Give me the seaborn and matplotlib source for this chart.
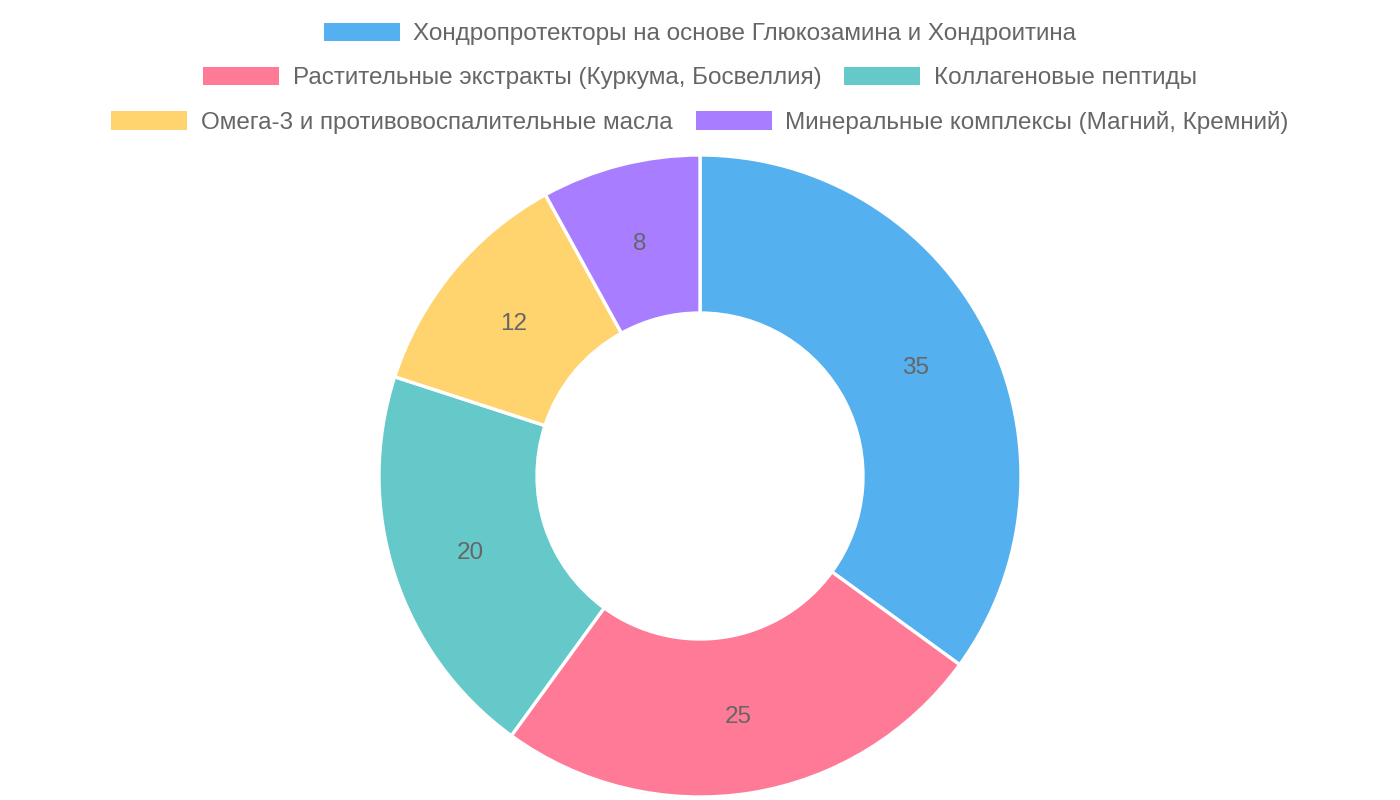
import matplotlib
matplotlib.use("Agg")
import matplotlib.pyplot as plt
import seaborn as sns
from matplotlib.patches import Patch

sns.set_theme(style="white")
plt.rcParams["font.family"] = ["Liberation Sans", "DejaVu Sans"]

# ---------------------------------------------------------------
# Data
# ---------------------------------------------------------------
categories = [
    "Хондропротекторы на основе Глюкозамина и Хондроитина",
    "Растительные экстракты (Куркума, Босвеллия)",
    "Коллагеновые пептиды",
    "Омега-3 и противовоспалительные масла",
    "Минеральные комплексы (Магний, Кремний)",
]
values = [35, 25, 20, 12, 8]
colors = ["#54B0EE", "#FF7A96", "#66C9C9", "#FFD46F", "#A87DFF"]
legend_rows = [[0], [1, 2], [3, 4]]

TEXT = "#666666"
FS = 17.5  # ~24px

W, H = 1400, 800
cx, cy, r_out, r_in = 700, 476, 321, 163

fig = plt.figure(figsize=(W / 100, H / 100), dpi=100)
ax = fig.add_axes([(cx - r_out) / W, (H - cy - r_out) / H, 2 * r_out / W, 2 * r_out / H])

total = sum(values)
wedges, _, autotexts = ax.pie(
    values,
    colors=colors,
    startangle=90,
    counterclock=False,
    radius=1,
    autopct=lambda p: f"{p * total / 100:.0f}",
    pctdistance=(r_out + r_in) / 2 / r_out,
    wedgeprops=dict(width=(r_out - r_in) / r_out, edgecolor="white", linewidth=2.4),
    textprops=dict(color=TEXT, fontsize=FS),
)
for t in autotexts:
    x, y = t.get_position()
    t.set_position((x, y - 2 / r_out))
ax.set_xlim(-1, 1)
ax.set_ylim(-1, 1)
ax.set_aspect("equal")
ax.axis("off")

# legend, Chart.js-style centred rows
row_y = [34, 78, 122]
for row, y in zip(legend_rows, row_y):
    handles = [Patch(facecolor=colors[i], edgecolor="none") for i in row]
    labels = [categories[i] for i in row]
    leg = fig.legend(
        handles, labels,
        loc="center", bbox_to_anchor=(0.5, 1 - y / H),
        ncol=len(row), frameon=False, fontsize=FS,
        handlelength=3.13, handleheight=0.82, handletextpad=0.57,
        columnspacing=0.94, borderpad=0, borderaxespad=0,
    )
    for t in leg.get_texts():
        t.set_color(TEXT)

fig.savefig("out.png", dpi=100, facecolor="white")
